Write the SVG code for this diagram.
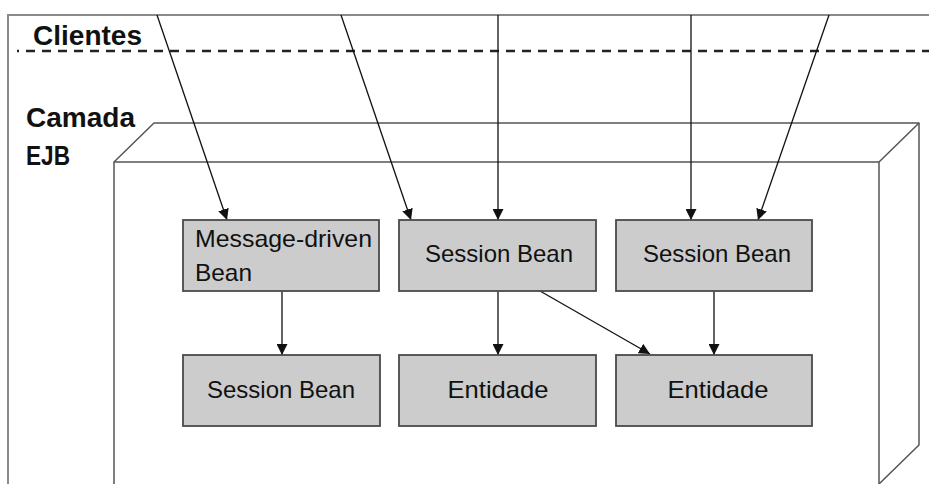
<svg xmlns="http://www.w3.org/2000/svg" width="929" height="484" viewBox="0 0 929 484">
  <defs>
    <marker id="arrow" viewBox="0 0 11 11" refX="11" refY="5.5" markerUnits="userSpaceOnUse" markerWidth="11" markerHeight="11" orient="auto">
      <path d="M0,0 L11,5.5 L0,11 z" fill="#111"/>
    </marker>
    <style>
      .frame { fill: none; stroke: #8a8a8a; stroke-width: 2; }
      .divider { fill: none; stroke: #222; stroke-width: 2.5; stroke-dasharray: 9 7; stroke-dashoffset: 7; }
      .slab { fill: none; stroke: #555; stroke-width: 1.5; stroke-linejoin: round; }
      .label { font-family: "Liberation Sans", Arial, sans-serif; font-weight: bold; font-size: 28px; fill: #111; }
      .node rect { fill: #cccccc; stroke: #4a4a4a; stroke-width: 1.8; }
      .node text { font-family: "Liberation Sans", Arial, sans-serif; font-size: 24px; fill: #111; }
      .conn line { stroke: #111; stroke-width: 1.3; marker-end: url(#arrow); }
    </style>
  </defs>

  <rect width="929" height="484" fill="#ffffff"/>

  <!-- outer frame and tier divider -->
  <path class="frame" d="M8,484 L8,15 L929,15"/>
  <line class="divider" x1="17" y1="51" x2="929" y2="51"/>

  <!-- tier labels -->
  <text class="label" x="33" y="45" font-size="26" textLength="109" lengthAdjust="spacingAndGlyphs">Clientes</text>
  <text class="label" x="26" y="127" textLength="109" lengthAdjust="spacingAndGlyphs">Camada</text>
  <text class="label" x="26" y="165" font-size="26" textLength="44" lengthAdjust="spacingAndGlyphs">EJB</text>

  <!-- EJB container slab (3D box) -->
  <g id="ejb-container">
    <path class="slab" d="M114,484 L114,162 L879,162 L879,484"/>
    <path class="slab" d="M114,162 L154,123 L919,123 L879,162"/>
    <path class="slab" d="M919,123 L919,445 L879,484"/>
  </g>

  <!-- connectors -->
  <g id="connectors" class="conn">
    <line x1="157" y1="15" x2="227" y2="220"/>
    <line x1="341" y1="15" x2="411" y2="220"/>
    <line x1="498" y1="15" x2="498" y2="220"/>
    <line x1="691" y1="15" x2="691" y2="220"/>
    <line x1="829" y1="15" x2="758" y2="220"/>
    <line x1="282" y1="291" x2="282" y2="355"/>
    <line x1="498" y1="291" x2="498" y2="355"/>
    <line x1="540" y1="291" x2="650" y2="354"/>
    <line x1="714" y1="291" x2="714" y2="355"/>
  </g>

  <!-- beans -->
  <g id="mdb" class="node">
    <rect x="183" y="220" width="196" height="71"/>
    <text x="195" y="247" textLength="177" lengthAdjust="spacingAndGlyphs">Message-driven</text>
    <text x="195" y="281" textLength="57" lengthAdjust="spacingAndGlyphs">Bean</text>
  </g>
  <g id="session-bean-1" class="node">
    <rect x="399" y="220" width="197" height="71"/>
    <text x="499" y="262" text-anchor="middle" textLength="148" lengthAdjust="spacingAndGlyphs">Session Bean</text>
  </g>
  <g id="session-bean-2" class="node">
    <rect x="616" y="220" width="196" height="71"/>
    <text x="717" y="262" text-anchor="middle" textLength="148" lengthAdjust="spacingAndGlyphs">Session Bean</text>
  </g>
  <g id="session-bean-3" class="node">
    <rect x="183" y="355" width="197" height="71"/>
    <text x="281" y="398" text-anchor="middle" textLength="148" lengthAdjust="spacingAndGlyphs">Session Bean</text>
  </g>
  <g id="entidade-1" class="node">
    <rect x="399" y="355" width="197" height="71"/>
    <text x="498" y="398" text-anchor="middle" textLength="101" lengthAdjust="spacingAndGlyphs">Entidade</text>
  </g>
  <g id="entidade-2" class="node">
    <rect x="616" y="355" width="196" height="71"/>
    <text x="718" y="398" text-anchor="middle" textLength="101" lengthAdjust="spacingAndGlyphs">Entidade</text>
  </g>
</svg>
